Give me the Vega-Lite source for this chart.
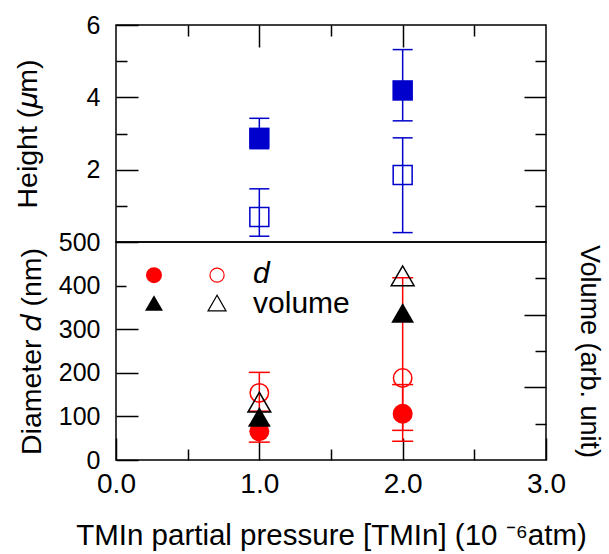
{
  "$schema": "https://vega.github.io/schema/vega-lite/v6.json",
  "padding": {"left": 12, "top": 12, "right": 0, "bottom": 0},
  "background": "white",
  "datasets": {
    "top": [
      {"x": 1, "y": 2.88, "lo": 2.58, "hi": 3.42, "s": "filled"},
      {"x": 2, "y": 4.19, "lo": 3.35, "hi": 5.32, "s": "filled"},
      {"x": 1, "y": 0.69, "lo": 0.16, "hi": 1.47, "s": "open"},
      {"x": 2, "y": 1.85, "lo": 0.26, "hi": 2.88, "s": "open"}
    ],
    "diam": [
      {"x": 1, "y": 66, "lo": 41, "hi": 80, "s": "filled"},
      {"x": 2, "y": 106, "lo": 43, "hi": 173, "s": "filled"},
      {"x": 1, "y": 154, "lo": 112, "hi": 201, "s": "open"},
      {"x": 2, "y": 188, "lo": 68, "hi": 418, "s": "open"}
    ],
    "vol": [
      {"x": 1, "y": 1.19, "s": "filled"},
      {"x": 2, "y": 4.05, "s": "filled"},
      {"x": 1, "y": 1.59, "s": "open"},
      {"x": 2, "y": 5.07, "s": "open"}
    ],
    "leg": [
      {"x": 0.265, "y": 424, "m": "dfill"},
      {"x": 0.705, "y": 424, "m": "dopen"},
      {"x": 0.265, "y": 360, "m": "vfill"},
      {"x": 0.705, "y": 360, "m": "vopen"}
    ],
    "legtext": [
      {"x": 0.956, "y": 405, "t": "d"},
      {"x": 0.956, "y": 337, "t": "volume"}
    ]
  },
  "config": {
    "font": "Liberation Sans",
    "view": {"stroke": "#000000", "strokeWidth": 1.5},
    "axis": {
      "domain": false, "grid": false, "tickColor": "#000000", "tickWidth": 1.5,
      "labelColor": "#000000", "titleColor": "#000000", "labelFont": "Liberation Sans",
      "titleFont": "Liberation Sans", "titleFontWeight": "normal", "labelFontSize": 25,
      "titleFontSize": 28.5, "labelFlush": false, "labelOverlap": false
    }
  },
  "spacing": 0,
  "bounds": "flush",
  "vconcat": [
    {
      "width": 430, "height": 217,
      "data": {"name": "top"},
      "layer": [
        {
          "transform": [{"filter": "datum.s == 'filled'"}],
          "layer": [
            {
              "mark": {"type": "rule", "color": "#0000cd", "strokeWidth": 1.5, "opacity": 1},
              "encoding": {
                "x": {"field": "x", "type": "quantitative", "scale": {"domain": [0, 3], "nice": false, "zero": false}, "axis": {"orient": "top", "values": [0.5, 1, 1.5, 2, 2.5], "labels": false, "title": null, "tickSize": {"condition": {"test": "datum.value % 1 == 0", "value": -22}, "value": -11}}},
                "y": {"field": "lo", "type": "quantitative", "scale": {"domain": [0, 6], "nice": false}, "axis": {"orient": "left", "values": [1, 2, 3, 4, 5, 6], "labelExpr": "datum.value % 2 == 0 ? datum.label : ''", "labelPadding": 38, "tickSize": {"condition": {"test": "datum.value % 2 == 0", "value": -22}, "value": -11}, "title": "Height (𝜇m)", "titlePadding": 44}},
                "y2": {"field": "hi"}
              }
            },
            {
              "mark": {"type": "tick", "orient": "horizontal", "size": 20, "thickness": 1.5, "color": "#0000cd", "opacity": 1},
              "encoding": {
                "x": {"field": "x", "type": "quantitative"},
                "y": {"field": "lo", "type": "quantitative"}
              }
            },
            {
              "mark": {"type": "tick", "orient": "horizontal", "size": 20, "thickness": 1.5, "color": "#0000cd", "opacity": 1},
              "encoding": {
                "x": {"field": "x", "type": "quantitative"},
                "y": {"field": "hi", "type": "quantitative"}
              }
            },
            {
              "mark": {"type": "point", "shape": "square", "filled": true, "size": 420, "color": "#0000cd", "opacity": 1},
              "encoding": {
                "x": {"field": "x", "type": "quantitative"},
                "y": {"field": "y", "type": "quantitative"}
              }
            }
          ]
        },
        {
          "transform": [{"filter": "datum.s == 'open'"}],
          "layer": [
            {
              "mark": {"type": "rule", "color": "#0000cd", "strokeWidth": 1.5, "opacity": 1},
              "encoding": {
                "x": {"field": "x", "type": "quantitative"},
                "y": {"field": "lo", "type": "quantitative", "scale": {"domain": [0, 6], "nice": false}, "axis": {"orient": "right", "values": [1, 2, 3, 4, 5], "labels": false, "title": null, "tickSize": {"condition": {"test": "datum.value % 2 == 0", "value": -22}, "value": -11}}},
                "y2": {"field": "hi"}
              }
            },
            {
              "mark": {"type": "tick", "orient": "horizontal", "size": 20, "thickness": 1.5, "color": "#0000cd", "opacity": 1},
              "encoding": {
                "x": {"field": "x", "type": "quantitative"},
                "y": {"field": "lo", "type": "quantitative"}
              }
            },
            {
              "mark": {"type": "tick", "orient": "horizontal", "size": 20, "thickness": 1.5, "color": "#0000cd", "opacity": 1},
              "encoding": {
                "x": {"field": "x", "type": "quantitative"},
                "y": {"field": "hi", "type": "quantitative"}
              }
            },
            {
              "mark": {"type": "point", "shape": "square", "filled": false, "size": 360, "strokeWidth": 1.5, "color": "#0000cd", "opacity": 1},
              "encoding": {
                "x": {"field": "x", "type": "quantitative"},
                "y": {"field": "y", "type": "quantitative"}
              }
            }
          ]
        }
      ],
      "resolve": {"axis": {"y": "independent"}}
    },
    {
      "width": 430, "height": 218,
      "layer": [
        {
          "layer": [
            {
              "data": {"name": "diam"},
              "mark": {"type": "rule", "color": "#ff0000", "strokeWidth": 1.5, "opacity": 1},
              "encoding": {
                "x": {"field": "x", "type": "quantitative", "scale": {"domain": [0, 3], "nice": false, "zero": false}, "axis": {"orient": "bottom", "values": [0, 0.5, 1, 1.5, 2, 2.5, 3], "labelExpr": "datum.value % 1 == 0 ? format(datum.value, '.1f') : ''", "labelFontSize": 28, "labelPadding": 32, "tickSize": {"condition": {"test": "datum.value % 1 == 0", "value": -22}, "value": -11}, "title": "TMIn partial pressure [TMIn] (10 ⁻⁶atm)", "titleFontSize": 29.5, "titlePadding": 12}},
                "y": {"field": "lo", "type": "quantitative", "scale": {"domain": [0, 500], "nice": false}, "axis": {"orient": "left", "values": [0, 100, 200, 300, 400, 500], "labelPadding": {"condition": {"test": "datum.value == 400", "value": 26}, "value": 38}, "tickSize": {"condition": {"test": "datum.value == 400", "value": -10}, "value": -22}, "title": "Diameter 𝑑 (nm)", "titlePadding": 12}},
                "y2": {"field": "hi"}
              }
            },
            {
              "data": {"name": "diam"},
              "mark": {"type": "tick", "orient": "horizontal", "size": 21, "thickness": 1.5, "color": "#ff0000", "opacity": 1},
              "encoding": {
                "x": {"field": "x", "type": "quantitative"},
                "y": {"field": "lo", "type": "quantitative"}
              }
            },
            {
              "data": {"name": "diam"},
              "mark": {"type": "tick", "orient": "horizontal", "size": 21, "thickness": 1.5, "color": "#ff0000", "opacity": 1},
              "encoding": {
                "x": {"field": "x", "type": "quantitative"},
                "y": {"field": "hi", "type": "quantitative"}
              }
            },
            {
              "data": {"name": "diam"},
              "transform": [{"filter": "datum.s == 'filled'"}],
              "mark": {"type": "point", "shape": "circle", "filled": true, "size": 400, "color": "#ff0000", "opacity": 1},
              "encoding": {
                "x": {"field": "x", "type": "quantitative"},
                "y": {"field": "y", "type": "quantitative"}
              }
            },
            {
              "data": {"name": "diam"},
              "transform": [{"filter": "datum.s == 'open'"}],
              "mark": {"type": "point", "shape": "circle", "filled": false, "size": 340, "strokeWidth": 1.5, "color": "#ff0000", "opacity": 1},
              "encoding": {
                "x": {"field": "x", "type": "quantitative"},
                "y": {"field": "y", "type": "quantitative"}
              }
            },
            {
              "data": {"name": "leg"},
              "transform": [{"filter": "datum.m == 'dfill'"}],
              "mark": {"type": "point", "shape": "circle", "filled": true, "size": 256, "color": "#ff0000", "opacity": 1},
              "encoding": {
                "x": {"field": "x", "type": "quantitative"},
                "y": {"field": "y", "type": "quantitative"}
              }
            },
            {
              "data": {"name": "leg"},
              "transform": [{"filter": "datum.m == 'dopen'"}],
              "mark": {"type": "point", "shape": "circle", "filled": false, "size": 200, "strokeWidth": 1.2, "color": "#ff0000", "opacity": 1},
              "encoding": {
                "x": {"field": "x", "type": "quantitative"},
                "y": {"field": "y", "type": "quantitative"}
              }
            },
            {
              "data": {"name": "leg"},
              "transform": [{"filter": "datum.m == 'vfill'"}],
              "mark": {"type": "point", "shape": "triangle-up", "filled": true, "size": 324, "color": "#000000", "opacity": 1},
              "encoding": {
                "x": {"field": "x", "type": "quantitative"},
                "y": {"field": "y", "type": "quantitative"}
              }
            },
            {
              "data": {"name": "leg"},
              "transform": [{"filter": "datum.m == 'vopen'"}],
              "mark": {"type": "point", "shape": "triangle-up", "filled": false, "size": 324, "strokeWidth": 1.2, "color": "#000000", "opacity": 1},
              "encoding": {
                "x": {"field": "x", "type": "quantitative"},
                "y": {"field": "y", "type": "quantitative"}
              }
            },
            {
              "data": {"name": "legtext"},
              "transform": [{"filter": "datum.t == 'd'"}],
              "mark": {"type": "text", "align": "left", "baseline": "alphabetic", "fontSize": 30, "fontStyle": "italic", "color": "#000000"},
              "encoding": {
                "x": {"field": "x", "type": "quantitative"},
                "y": {"field": "y", "type": "quantitative"},
                "text": {"field": "t"}
              }
            },
            {
              "data": {"name": "legtext"},
              "transform": [{"filter": "datum.t == 'volume'"}],
              "mark": {"type": "text", "align": "left", "baseline": "alphabetic", "fontSize": 30, "color": "#000000"},
              "encoding": {
                "x": {"field": "x", "type": "quantitative"},
                "y": {"field": "y", "type": "quantitative"},
                "text": {"field": "t"}
              }
            }
          ]
        },
        {
          "data": {"name": "vol"},
          "layer": [
            {
              "transform": [{"filter": "datum.s == 'filled'"}],
              "mark": {"type": "point", "shape": "triangle-up", "filled": true, "size": 520, "color": "#000000", "opacity": 1},
              "encoding": {
                "x": {"field": "x", "type": "quantitative"},
                "y": {"field": "y", "type": "quantitative", "scale": {"domain": [0, 6], "nice": false}, "axis": {"orient": "right", "values": [1, 2, 3, 4, 5], "labels": false, "tickSize": {"condition": {"test": "datum.value % 2 == 0", "value": -22}, "value": -11}, "title": "Volume (arb. unit)", "titleFontSize": 27, "titlePadding": 28}}
              }
            },
            {
              "transform": [{"filter": "datum.s == 'open'"}],
              "mark": {"type": "point", "shape": "triangle-up", "filled": false, "size": 520, "strokeWidth": 1.5, "color": "#000000", "opacity": 1},
              "encoding": {
                "x": {"field": "x", "type": "quantitative"},
                "y": {"field": "y", "type": "quantitative"}
              }
            }
          ]
        }
      ],
      "resolve": {"scale": {"y": "independent"}}
    }
  ]
}
